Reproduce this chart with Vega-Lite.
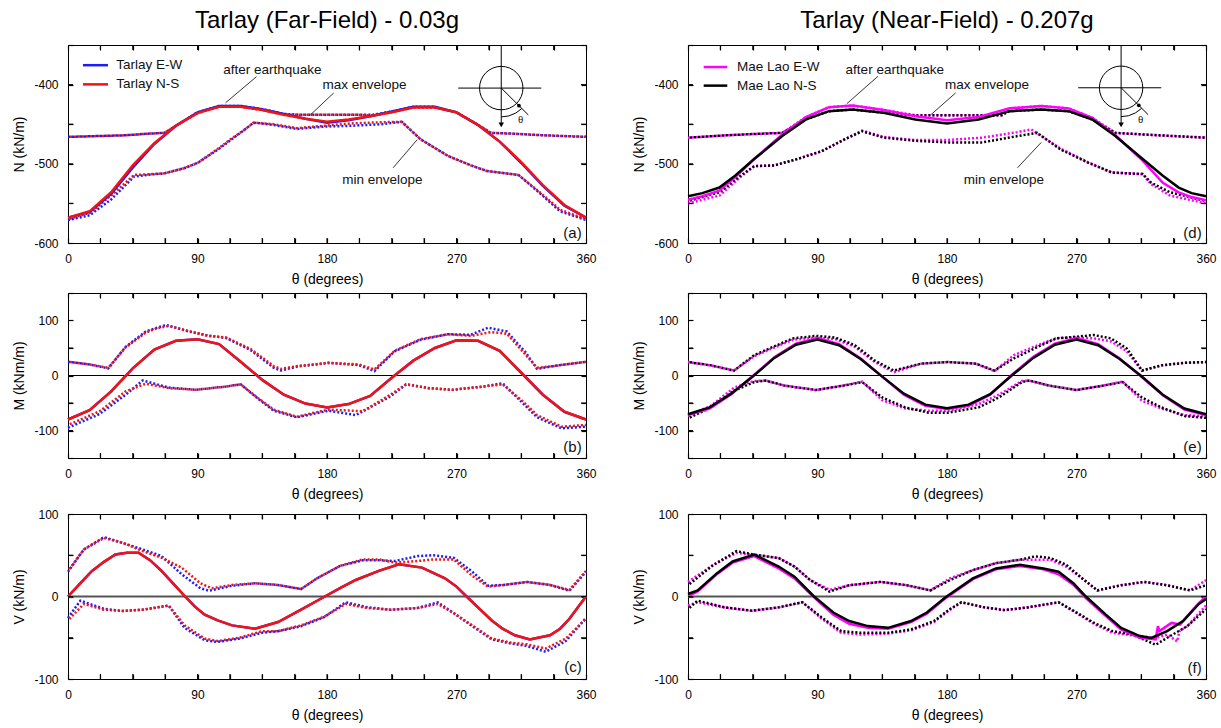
{
"$schema":"https://vega.github.io/schema/vega-lite/v6.json",
"padding":{"left":12,"top":8,"right":0,"bottom":0},
"config":{"font":"Liberation Sans","view":{"stroke":"#000","strokeWidth":1},
"axis":{"grid":false,"domain":false,"ticks":true,"tickColor":"#000","tickWidth":1.2,"tickSize":-5,"labelFontSize":12,"labelColor":"#000","labelPadding":15,"titleFontSize":14,"titleFontWeight":"normal","titleColor":"#000","labelFlush":false,"labelOverlap":false},
"axisX":{"titlePadding":8},"axisY":{"titlePadding":7},
"title":{"fontSize":24,"fontWeight":"normal","color":"#000"},
"text":{"color":"#111"}},
"datasets":{
"a":[
{"s":"E","k":"a","x":0,"y":-568},{"s":"E","k":"a","x":15,"y":-561},{"s":"E","k":"a","x":30,"y":-538},{"s":"E","k":"a","x":45,"y":-505},{"s":"E","k":"a","x":60,"y":-475},{"s":"E","k":"a","x":75,"y":-452},{"s":"E","k":"a","x":90,"y":-435},{"s":"E","k":"a","x":105,"y":-427},{"s":"E","k":"a","x":120,"y":-427},{"s":"E","k":"a","x":135,"y":-431},{"s":"E","k":"a","x":150,"y":-437},{"s":"E","k":"a","x":165,"y":-443},{"s":"E","k":"a","x":180,"y":-448},{"s":"E","k":"a","x":195,"y":-445},{"s":"E","k":"a","x":210,"y":-440},{"s":"E","k":"a","x":225,"y":-434},{"s":"E","k":"a","x":240,"y":-428},{"s":"E","k":"a","x":255,"y":-428},{"s":"E","k":"a","x":270,"y":-435},{"s":"E","k":"a","x":285,"y":-451},{"s":"E","k":"a","x":300,"y":-472},{"s":"E","k":"a","x":315,"y":-499},{"s":"E","k":"a","x":330,"y":-528},{"s":"E","k":"a","x":345,"y":-553},{"s":"E","k":"a","x":360,"y":-568},
{"s":"N","k":"a","x":0,"y":-568},{"s":"N","k":"a","x":15,"y":-560},{"s":"N","k":"a","x":30,"y":-536},{"s":"N","k":"a","x":45,"y":-502},{"s":"N","k":"a","x":60,"y":-474},{"s":"N","k":"a","x":75,"y":-452},{"s":"N","k":"a","x":90,"y":-436},{"s":"N","k":"a","x":105,"y":-428},{"s":"N","k":"a","x":120,"y":-428},{"s":"N","k":"a","x":135,"y":-432},{"s":"N","k":"a","x":150,"y":-438},{"s":"N","k":"a","x":165,"y":-443},{"s":"N","k":"a","x":180,"y":-447},{"s":"N","k":"a","x":195,"y":-444},{"s":"N","k":"a","x":210,"y":-440},{"s":"N","k":"a","x":225,"y":-435},{"s":"N","k":"a","x":240,"y":-429},{"s":"N","k":"a","x":255,"y":-429},{"s":"N","k":"a","x":270,"y":-435},{"s":"N","k":"a","x":285,"y":-451},{"s":"N","k":"a","x":300,"y":-472},{"s":"N","k":"a","x":315,"y":-498},{"s":"N","k":"a","x":330,"y":-527},{"s":"N","k":"a","x":345,"y":-552},{"s":"N","k":"a","x":360,"y":-568},
{"s":"E","k":"hi","x":0,"y":-466},{"s":"E","k":"hi","x":20,"y":-465},{"s":"E","k":"hi","x":40,"y":-464},{"s":"E","k":"hi","x":55,"y":-462},{"s":"E","k":"hi","x":67,"y":-461},{"s":"E","k":"hi","x":75,"y":-452},{"s":"E","k":"hi","x":90,"y":-435},{"s":"E","k":"hi","x":105,"y":-427},{"s":"E","k":"hi","x":120,"y":-427},{"s":"E","k":"hi","x":135,"y":-431},{"s":"E","k":"hi","x":150,"y":-437},{"s":"E","k":"hi","x":160,"y":-438},{"s":"E","k":"hi","x":180,"y":-438},{"s":"E","k":"hi","x":200,"y":-438},{"s":"E","k":"hi","x":212,"y":-438},{"s":"E","k":"hi","x":225,"y":-434},{"s":"E","k":"hi","x":240,"y":-428},{"s":"E","k":"hi","x":255,"y":-428},{"s":"E","k":"hi","x":270,"y":-435},{"s":"E","k":"hi","x":285,"y":-451},{"s":"E","k":"hi","x":294,"y":-461},{"s":"E","k":"hi","x":310,"y":-462},{"s":"E","k":"hi","x":330,"y":-464},{"s":"E","k":"hi","x":360,"y":-466},
{"s":"N","k":"hi","x":0,"y":-466},{"s":"N","k":"hi","x":20,"y":-465},{"s":"N","k":"hi","x":40,"y":-464},{"s":"N","k":"hi","x":55,"y":-462},{"s":"N","k":"hi","x":67,"y":-461},{"s":"N","k":"hi","x":75,"y":-452},{"s":"N","k":"hi","x":90,"y":-436},{"s":"N","k":"hi","x":105,"y":-428},{"s":"N","k":"hi","x":120,"y":-428},{"s":"N","k":"hi","x":135,"y":-432},{"s":"N","k":"hi","x":150,"y":-438},{"s":"N","k":"hi","x":160,"y":-438},{"s":"N","k":"hi","x":180,"y":-438},{"s":"N","k":"hi","x":200,"y":-438},{"s":"N","k":"hi","x":212,"y":-439},{"s":"N","k":"hi","x":225,"y":-435},{"s":"N","k":"hi","x":240,"y":-429},{"s":"N","k":"hi","x":255,"y":-429},{"s":"N","k":"hi","x":270,"y":-435},{"s":"N","k":"hi","x":285,"y":-451},{"s":"N","k":"hi","x":294,"y":-461},{"s":"N","k":"hi","x":310,"y":-462},{"s":"N","k":"hi","x":330,"y":-464},{"s":"N","k":"hi","x":360,"y":-466},
{"s":"E","k":"lo","x":0,"y":-571},{"s":"E","k":"lo","x":15,"y":-565},{"s":"E","k":"lo","x":30,"y":-545},{"s":"E","k":"lo","x":46,"y":-516},{"s":"E","k":"lo","x":55,"y":-514},{"s":"E","k":"lo","x":67,"y":-512},{"s":"E","k":"lo","x":80,"y":-506},{"s":"E","k":"lo","x":90,"y":-499},{"s":"E","k":"lo","x":105,"y":-481},{"s":"E","k":"lo","x":113,"y":-470},{"s":"E","k":"lo","x":122,"y":-458},{"s":"E","k":"lo","x":129,"y":-448},{"s":"E","k":"lo","x":143,"y":-451},{"s":"E","k":"lo","x":159,"y":-456},{"s":"E","k":"lo","x":178,"y":-453},{"s":"E","k":"lo","x":197,"y":-452},{"s":"E","k":"lo","x":218,"y":-450},{"s":"E","k":"lo","x":232,"y":-447},{"s":"E","k":"lo","x":245,"y":-469},{"s":"E","k":"lo","x":264,"y":-490},{"s":"E","k":"lo","x":280,"y":-502},{"s":"E","k":"lo","x":291,"y":-509},{"s":"E","k":"lo","x":313,"y":-514},{"s":"E","k":"lo","x":326,"y":-534},{"s":"E","k":"lo","x":342,"y":-560},{"s":"E","k":"lo","x":360,"y":-571},
{"s":"N","k":"lo","x":0,"y":-570},{"s":"N","k":"lo","x":15,"y":-562},{"s":"N","k":"lo","x":30,"y":-540},{"s":"N","k":"lo","x":46,"y":-514},{"s":"N","k":"lo","x":55,"y":-513.5},{"s":"N","k":"lo","x":67,"y":-512},{"s":"N","k":"lo","x":80,"y":-506},{"s":"N","k":"lo","x":90,"y":-499},{"s":"N","k":"lo","x":105,"y":-480},{"s":"N","k":"lo","x":113,"y":-469},{"s":"N","k":"lo","x":122,"y":-458},{"s":"N","k":"lo","x":129,"y":-448},{"s":"N","k":"lo","x":143,"y":-450},{"s":"N","k":"lo","x":159,"y":-455},{"s":"N","k":"lo","x":178,"y":-452},{"s":"N","k":"lo","x":197,"y":-449},{"s":"N","k":"lo","x":218,"y":-447.5},{"s":"N","k":"lo","x":232,"y":-447},{"s":"N","k":"lo","x":245,"y":-469},{"s":"N","k":"lo","x":264,"y":-490},{"s":"N","k":"lo","x":280,"y":-502},{"s":"N","k":"lo","x":291,"y":-509},{"s":"N","k":"lo","x":313,"y":-514},{"s":"N","k":"lo","x":326,"y":-533},{"s":"N","k":"lo","x":342,"y":-558},{"s":"N","k":"lo","x":360,"y":-570}
],
"b":[
{"s":"E","k":"a","x":0,"y":-80},{"s":"E","k":"a","x":15,"y":-63},{"s":"E","k":"a","x":30,"y":-29},{"s":"E","k":"a","x":45,"y":13},{"s":"E","k":"a","x":60,"y":47},{"s":"E","k":"a","x":75,"y":63},{"s":"E","k":"a","x":90,"y":66},{"s":"E","k":"a","x":105,"y":57},{"s":"E","k":"a","x":120,"y":25},{"s":"E","k":"a","x":135,"y":-8},{"s":"E","k":"a","x":150,"y":-35},{"s":"E","k":"a","x":165,"y":-51},{"s":"E","k":"a","x":180,"y":-58},{"s":"E","k":"a","x":195,"y":-52},{"s":"E","k":"a","x":210,"y":-37},{"s":"E","k":"a","x":225,"y":-4},{"s":"E","k":"a","x":240,"y":27},{"s":"E","k":"a","x":255,"y":50},{"s":"E","k":"a","x":270,"y":64},{"s":"E","k":"a","x":285,"y":63},{"s":"E","k":"a","x":300,"y":45},{"s":"E","k":"a","x":315,"y":5},{"s":"E","k":"a","x":330,"y":-35},{"s":"E","k":"a","x":345,"y":-66},{"s":"E","k":"a","x":360,"y":-80},
{"s":"N","k":"a","x":0,"y":-80},{"s":"N","k":"a","x":15,"y":-63},{"s":"N","k":"a","x":30,"y":-29},{"s":"N","k":"a","x":45,"y":13},{"s":"N","k":"a","x":60,"y":47},{"s":"N","k":"a","x":75,"y":63},{"s":"N","k":"a","x":90,"y":66},{"s":"N","k":"a","x":105,"y":57},{"s":"N","k":"a","x":120,"y":25},{"s":"N","k":"a","x":135,"y":-8},{"s":"N","k":"a","x":150,"y":-35},{"s":"N","k":"a","x":165,"y":-51},{"s":"N","k":"a","x":180,"y":-58},{"s":"N","k":"a","x":195,"y":-52},{"s":"N","k":"a","x":210,"y":-37},{"s":"N","k":"a","x":225,"y":-4},{"s":"N","k":"a","x":240,"y":27},{"s":"N","k":"a","x":255,"y":50},{"s":"N","k":"a","x":270,"y":64},{"s":"N","k":"a","x":285,"y":63},{"s":"N","k":"a","x":300,"y":45},{"s":"N","k":"a","x":315,"y":5},{"s":"N","k":"a","x":330,"y":-35},{"s":"N","k":"a","x":345,"y":-66},{"s":"N","k":"a","x":360,"y":-80},
{"s":"E","k":"hi","x":0,"y":25},{"s":"E","k":"hi","x":15,"y":20},{"s":"E","k":"hi","x":28,"y":13},{"s":"E","k":"hi","x":40,"y":52},{"s":"E","k":"hi","x":54,"y":80},{"s":"E","k":"hi","x":68,"y":92},{"s":"E","k":"hi","x":84,"y":80},{"s":"E","k":"hi","x":97,"y":73},{"s":"E","k":"hi","x":110,"y":68},{"s":"E","k":"hi","x":127,"y":46},{"s":"E","k":"hi","x":143,"y":14},{"s":"E","k":"hi","x":148,"y":9},{"s":"E","k":"hi","x":159,"y":16},{"s":"E","k":"hi","x":181,"y":23},{"s":"E","k":"hi","x":202,"y":19},{"s":"E","k":"hi","x":213,"y":8},{"s":"E","k":"hi","x":227,"y":44},{"s":"E","k":"hi","x":245,"y":65},{"s":"E","k":"hi","x":264,"y":75},{"s":"E","k":"hi","x":280,"y":74},{"s":"E","k":"hi","x":292,"y":87},{"s":"E","k":"hi","x":305,"y":80},{"s":"E","k":"hi","x":318,"y":42},{"s":"E","k":"hi","x":326,"y":12},{"s":"E","k":"hi","x":337,"y":17},{"s":"E","k":"hi","x":360,"y":25},
{"s":"N","k":"hi","x":0,"y":25},{"s":"N","k":"hi","x":15,"y":20},{"s":"N","k":"hi","x":28,"y":14},{"s":"N","k":"hi","x":40,"y":51},{"s":"N","k":"hi","x":54,"y":78},{"s":"N","k":"hi","x":62,"y":86},{"s":"N","k":"hi","x":70,"y":90},{"s":"N","k":"hi","x":84,"y":81},{"s":"N","k":"hi","x":97,"y":72},{"s":"N","k":"hi","x":110,"y":69},{"s":"N","k":"hi","x":127,"y":48},{"s":"N","k":"hi","x":143,"y":17},{"s":"N","k":"hi","x":148,"y":12},{"s":"N","k":"hi","x":159,"y":17},{"s":"N","k":"hi","x":181,"y":23},{"s":"N","k":"hi","x":202,"y":20},{"s":"N","k":"hi","x":213,"y":11},{"s":"N","k":"hi","x":227,"y":45},{"s":"N","k":"hi","x":245,"y":66},{"s":"N","k":"hi","x":264,"y":75},{"s":"N","k":"hi","x":280,"y":72},{"s":"N","k":"hi","x":294,"y":79},{"s":"N","k":"hi","x":305,"y":76},{"s":"N","k":"hi","x":318,"y":38},{"s":"N","k":"hi","x":326,"y":14},{"s":"N","k":"hi","x":337,"y":17},{"s":"N","k":"hi","x":360,"y":25},
{"s":"E","k":"lo","x":0,"y":-95},{"s":"E","k":"lo","x":22,"y":-70},{"s":"E","k":"lo","x":40,"y":-35},{"s":"E","k":"lo","x":52,"y":-9},{"s":"E","k":"lo","x":70,"y":-22},{"s":"E","k":"lo","x":89,"y":-26},{"s":"E","k":"lo","x":110,"y":-20},{"s":"E","k":"lo","x":120,"y":-16},{"s":"E","k":"lo","x":132,"y":-42},{"s":"E","k":"lo","x":143,"y":-64},{"s":"E","k":"lo","x":159,"y":-76},{"s":"E","k":"lo","x":181,"y":-64},{"s":"E","k":"lo","x":200,"y":-72},{"s":"E","k":"lo","x":224,"y":-38},{"s":"E","k":"lo","x":235,"y":-16},{"s":"E","k":"lo","x":251,"y":-23},{"s":"E","k":"lo","x":267,"y":-26},{"s":"E","k":"lo","x":289,"y":-20},{"s":"E","k":"lo","x":302,"y":-14},{"s":"E","k":"lo","x":316,"y":-50},{"s":"E","k":"lo","x":326,"y":-76},{"s":"E","k":"lo","x":343,"y":-96},{"s":"E","k":"lo","x":360,"y":-93},
{"s":"N","k":"lo","x":0,"y":-90},{"s":"N","k":"lo","x":22,"y":-65},{"s":"N","k":"lo","x":40,"y":-29},{"s":"N","k":"lo","x":54,"y":-15},{"s":"N","k":"lo","x":70,"y":-23},{"s":"N","k":"lo","x":89,"y":-26},{"s":"N","k":"lo","x":110,"y":-20},{"s":"N","k":"lo","x":120,"y":-16},{"s":"N","k":"lo","x":132,"y":-41},{"s":"N","k":"lo","x":143,"y":-62},{"s":"N","k":"lo","x":159,"y":-75},{"s":"N","k":"lo","x":181,"y":-62},{"s":"N","k":"lo","x":205,"y":-65},{"s":"N","k":"lo","x":224,"y":-35},{"s":"N","k":"lo","x":235,"y":-16},{"s":"N","k":"lo","x":251,"y":-23},{"s":"N","k":"lo","x":267,"y":-26},{"s":"N","k":"lo","x":289,"y":-20},{"s":"N","k":"lo","x":302,"y":-16},{"s":"N","k":"lo","x":316,"y":-47},{"s":"N","k":"lo","x":326,"y":-72},{"s":"N","k":"lo","x":343,"y":-93},{"s":"N","k":"lo","x":360,"y":-90}
],
"c":[
{"s":"E","k":"a","x":0,"y":0},{"s":"E","k":"a","x":8,"y":15},{"s":"E","k":"a","x":16.7,"y":31},{"s":"E","k":"a","x":25,"y":42},{"s":"E","k":"a","x":33,"y":51},{"s":"E","k":"a","x":41,"y":53},{"s":"E","k":"a","x":49,"y":53},{"s":"E","k":"a","x":57,"y":44},{"s":"E","k":"a","x":65,"y":31},{"s":"E","k":"a","x":73,"y":16},{"s":"E","k":"a","x":81.4,"y":0},{"s":"E","k":"a","x":88,"y":-12},{"s":"E","k":"a","x":95,"y":-22},{"s":"E","k":"a","x":104,"y":-29},{"s":"E","k":"a","x":114,"y":-35},{"s":"E","k":"a","x":130,"y":-39},{"s":"E","k":"a","x":146,"y":-31},{"s":"E","k":"a","x":162,"y":-16},{"s":"E","k":"a","x":178.5,"y":0},{"s":"E","k":"a","x":190,"y":11},{"s":"E","k":"a","x":200,"y":20},{"s":"E","k":"a","x":216,"y":31},{"s":"E","k":"a","x":230,"y":39},{"s":"E","k":"a","x":246,"y":35},{"s":"E","k":"a","x":262,"y":22},{"s":"E","k":"a","x":270,"y":12},{"s":"E","k":"a","x":277,"y":0},{"s":"E","k":"a","x":286,"y":-15},{"s":"E","k":"a","x":294.5,"y":-29},{"s":"E","k":"a","x":302,"y":-39},{"s":"E","k":"a","x":310.6,"y":-47},{"s":"E","k":"a","x":321,"y":-52},{"s":"E","k":"a","x":335,"y":-47},{"s":"E","k":"a","x":342,"y":-39},{"s":"E","k":"a","x":348.5,"y":-27},{"s":"E","k":"a","x":354,"y":-14},{"s":"E","k":"a","x":360,"y":0},
{"s":"N","k":"a","x":0,"y":0},{"s":"N","k":"a","x":8,"y":15},{"s":"N","k":"a","x":16.7,"y":31},{"s":"N","k":"a","x":25,"y":42},{"s":"N","k":"a","x":33,"y":51},{"s":"N","k":"a","x":41,"y":53},{"s":"N","k":"a","x":49,"y":53},{"s":"N","k":"a","x":57,"y":44},{"s":"N","k":"a","x":65,"y":31},{"s":"N","k":"a","x":73,"y":16},{"s":"N","k":"a","x":81.4,"y":0},{"s":"N","k":"a","x":88,"y":-12},{"s":"N","k":"a","x":95,"y":-22},{"s":"N","k":"a","x":104,"y":-29},{"s":"N","k":"a","x":114,"y":-35},{"s":"N","k":"a","x":130,"y":-39},{"s":"N","k":"a","x":146,"y":-31},{"s":"N","k":"a","x":162,"y":-16},{"s":"N","k":"a","x":178.5,"y":0},{"s":"N","k":"a","x":190,"y":11},{"s":"N","k":"a","x":200,"y":20},{"s":"N","k":"a","x":216,"y":31},{"s":"N","k":"a","x":230,"y":39},{"s":"N","k":"a","x":246,"y":35},{"s":"N","k":"a","x":262,"y":22},{"s":"N","k":"a","x":270,"y":12},{"s":"N","k":"a","x":277,"y":0},{"s":"N","k":"a","x":286,"y":-15},{"s":"N","k":"a","x":294.5,"y":-29},{"s":"N","k":"a","x":302,"y":-39},{"s":"N","k":"a","x":310.6,"y":-47},{"s":"N","k":"a","x":321,"y":-52},{"s":"N","k":"a","x":335,"y":-47},{"s":"N","k":"a","x":342,"y":-39},{"s":"N","k":"a","x":348.5,"y":-27},{"s":"N","k":"a","x":354,"y":-14},{"s":"N","k":"a","x":360,"y":0},
{"s":"E","k":"hi","x":0,"y":30},{"s":"E","k":"hi","x":11,"y":57},{"s":"E","k":"hi","x":25,"y":72},{"s":"E","k":"hi","x":38,"y":65},{"s":"E","k":"hi","x":52,"y":57},{"s":"E","k":"hi","x":65,"y":49},{"s":"E","k":"hi","x":79,"y":27},{"s":"E","k":"hi","x":92,"y":10},{"s":"E","k":"hi","x":98,"y":7},{"s":"E","k":"hi","x":114,"y":13},{"s":"E","k":"hi","x":130,"y":16},{"s":"E","k":"hi","x":146,"y":14},{"s":"E","k":"hi","x":162,"y":9},{"s":"E","k":"hi","x":173,"y":22},{"s":"E","k":"hi","x":189,"y":37},{"s":"E","k":"hi","x":205,"y":44},{"s":"E","k":"hi","x":216,"y":44},{"s":"E","k":"hi","x":227,"y":43},{"s":"E","k":"hi","x":243,"y":49},{"s":"E","k":"hi","x":254,"y":50},{"s":"E","k":"hi","x":268,"y":47},{"s":"E","k":"hi","x":281,"y":30},{"s":"E","k":"hi","x":292,"y":13},{"s":"E","k":"hi","x":303,"y":14},{"s":"E","k":"hi","x":319,"y":17.5},{"s":"E","k":"hi","x":335,"y":14},{"s":"E","k":"hi","x":348.5,"y":7},{"s":"E","k":"hi","x":360,"y":30},
{"s":"N","k":"hi","x":0,"y":31},{"s":"N","k":"hi","x":11,"y":57},{"s":"N","k":"hi","x":25,"y":71},{"s":"N","k":"hi","x":38,"y":65},{"s":"N","k":"hi","x":52,"y":55},{"s":"N","k":"hi","x":65,"y":47},{"s":"N","k":"hi","x":79,"y":35},{"s":"N","k":"hi","x":92,"y":16},{"s":"N","k":"hi","x":100,"y":10},{"s":"N","k":"hi","x":114,"y":14},{"s":"N","k":"hi","x":130,"y":16},{"s":"N","k":"hi","x":146,"y":14},{"s":"N","k":"hi","x":162,"y":9},{"s":"N","k":"hi","x":173,"y":22},{"s":"N","k":"hi","x":189,"y":37},{"s":"N","k":"hi","x":205,"y":45},{"s":"N","k":"hi","x":216,"y":45},{"s":"N","k":"hi","x":227,"y":41},{"s":"N","k":"hi","x":243,"y":43},{"s":"N","k":"hi","x":254,"y":45},{"s":"N","k":"hi","x":268,"y":45},{"s":"N","k":"hi","x":281,"y":25},{"s":"N","k":"hi","x":292,"y":12},{"s":"N","k":"hi","x":303,"y":14},{"s":"N","k":"hi","x":319,"y":17.5},{"s":"N","k":"hi","x":335,"y":14},{"s":"N","k":"hi","x":348.5,"y":8},{"s":"N","k":"hi","x":360,"y":31},
{"s":"E","k":"lo","x":0,"y":-26},{"s":"E","k":"lo","x":8.6,"y":-5},{"s":"E","k":"lo","x":25,"y":-15},{"s":"E","k":"lo","x":38,"y":-17.5},{"s":"E","k":"lo","x":52,"y":-16},{"s":"E","k":"lo","x":70,"y":-11},{"s":"E","k":"lo","x":81,"y":-38},{"s":"E","k":"lo","x":95,"y":-53},{"s":"E","k":"lo","x":104,"y":-55},{"s":"E","k":"lo","x":119,"y":-51},{"s":"E","k":"lo","x":135,"y":-44},{"s":"E","k":"lo","x":146,"y":-42},{"s":"E","k":"lo","x":162,"y":-36},{"s":"E","k":"lo","x":178,"y":-25},{"s":"E","k":"lo","x":193,"y":-7},{"s":"E","k":"lo","x":208,"y":-13},{"s":"E","k":"lo","x":224,"y":-16},{"s":"E","k":"lo","x":243,"y":-14},{"s":"E","k":"lo","x":257,"y":-7},{"s":"E","k":"lo","x":268,"y":-20},{"s":"E","k":"lo","x":281,"y":-36},{"s":"E","k":"lo","x":294.5,"y":-52},{"s":"E","k":"lo","x":308,"y":-57},{"s":"E","k":"lo","x":319,"y":-60},{"s":"E","k":"lo","x":332,"y":-67},{"s":"E","k":"lo","x":346,"y":-54},{"s":"E","k":"lo","x":360,"y":-26},
{"s":"N","k":"lo","x":0,"y":-29},{"s":"N","k":"lo","x":11,"y":-9},{"s":"N","k":"lo","x":25,"y":-16},{"s":"N","k":"lo","x":38,"y":-17.5},{"s":"N","k":"lo","x":52,"y":-16},{"s":"N","k":"lo","x":70,"y":-11},{"s":"N","k":"lo","x":81,"y":-35},{"s":"N","k":"lo","x":95,"y":-51},{"s":"N","k":"lo","x":104,"y":-54},{"s":"N","k":"lo","x":119,"y":-50},{"s":"N","k":"lo","x":135,"y":-42},{"s":"N","k":"lo","x":146,"y":-42},{"s":"N","k":"lo","x":162,"y":-35},{"s":"N","k":"lo","x":178,"y":-24.5},{"s":"N","k":"lo","x":193,"y":-9},{"s":"N","k":"lo","x":208,"y":-14},{"s":"N","k":"lo","x":224,"y":-16},{"s":"N","k":"lo","x":243,"y":-14},{"s":"N","k":"lo","x":257,"y":-9},{"s":"N","k":"lo","x":268,"y":-20},{"s":"N","k":"lo","x":281,"y":-35},{"s":"N","k":"lo","x":294.5,"y":-51},{"s":"N","k":"lo","x":308,"y":-56},{"s":"N","k":"lo","x":319,"y":-58},{"s":"N","k":"lo","x":332,"y":-63},{"s":"N","k":"lo","x":346,"y":-51},{"s":"N","k":"lo","x":360,"y":-27}
],
"d":[
{"s":"E","k":"a","x":0,"y":-545.5},{"s":"E","k":"a","x":10,"y":-541},{"s":"E","k":"a","x":21.8,"y":-534},{"s":"E","k":"a","x":32.7,"y":-517},{"s":"E","k":"a","x":46,"y":-494},{"s":"E","k":"a","x":65.5,"y":-463},{"s":"E","k":"a","x":82,"y":-441},{"s":"E","k":"a","x":98,"y":-428.5},{"s":"E","k":"a","x":114.5,"y":-426.5},{"s":"E","k":"a","x":136,"y":-432},{"s":"E","k":"a","x":158,"y":-440},{"s":"E","k":"a","x":180,"y":-445},{"s":"E","k":"a","x":202,"y":-441},{"s":"E","k":"a","x":223.6,"y":-430},{"s":"E","k":"a","x":245.5,"y":-427},{"s":"E","k":"a","x":264.5,"y":-430},{"s":"E","k":"a","x":281,"y":-442},{"s":"E","k":"a","x":297,"y":-464},{"s":"E","k":"a","x":316,"y":-496},{"s":"E","k":"a","x":330,"y":-524},{"s":"E","k":"a","x":341,"y":-536},{"s":"E","k":"a","x":350,"y":-542},{"s":"E","k":"a","x":360,"y":-546},
{"s":"N","k":"a","x":0,"y":-541},{"s":"N","k":"a","x":10,"y":-537},{"s":"N","k":"a","x":21.8,"y":-530},{"s":"N","k":"a","x":32.7,"y":-515},{"s":"N","k":"a","x":46,"y":-494},{"s":"N","k":"a","x":65.5,"y":-465},{"s":"N","k":"a","x":82,"y":-444},{"s":"N","k":"a","x":98,"y":-433.5},{"s":"N","k":"a","x":114.5,"y":-431.5},{"s":"N","k":"a","x":136,"y":-435.6},{"s":"N","k":"a","x":158,"y":-444},{"s":"N","k":"a","x":180,"y":-449},{"s":"N","k":"a","x":202,"y":-444},{"s":"N","k":"a","x":223.6,"y":-433.5},{"s":"N","k":"a","x":245.5,"y":-431.5},{"s":"N","k":"a","x":264.5,"y":-433.5},{"s":"N","k":"a","x":281,"y":-444},{"s":"N","k":"a","x":297,"y":-465},{"s":"N","k":"a","x":316,"y":-494},{"s":"N","k":"a","x":330,"y":-515},{"s":"N","k":"a","x":341,"y":-530},{"s":"N","k":"a","x":350,"y":-537},{"s":"N","k":"a","x":360,"y":-541},
{"s":"E","k":"hi","x":0,"y":-467},{"s":"E","k":"hi","x":27,"y":-464},{"s":"E","k":"hi","x":50,"y":-462},{"s":"E","k":"hi","x":65.5,"y":-461},{"s":"E","k":"hi","x":82,"y":-441},{"s":"E","k":"hi","x":98,"y":-428.5},{"s":"E","k":"hi","x":114.5,"y":-426.5},{"s":"E","k":"hi","x":136,"y":-432},{"s":"E","k":"hi","x":158,"y":-438.6},{"s":"E","k":"hi","x":169,"y":-438.6},{"s":"E","k":"hi","x":218,"y":-438.6},{"s":"E","k":"hi","x":223.6,"y":-430},{"s":"E","k":"hi","x":245.5,"y":-427},{"s":"E","k":"hi","x":264.5,"y":-430},{"s":"E","k":"hi","x":281,"y":-442},{"s":"E","k":"hi","x":297,"y":-461},{"s":"E","k":"hi","x":327,"y":-464},{"s":"E","k":"hi","x":360,"y":-467},
{"s":"N","k":"hi","x":0,"y":-467},{"s":"N","k":"hi","x":27,"y":-464},{"s":"N","k":"hi","x":50,"y":-462},{"s":"N","k":"hi","x":65.5,"y":-461},{"s":"N","k":"hi","x":82,"y":-444},{"s":"N","k":"hi","x":98,"y":-433.5},{"s":"N","k":"hi","x":114.5,"y":-431.5},{"s":"N","k":"hi","x":136,"y":-435.6},{"s":"N","k":"hi","x":158,"y":-439},{"s":"N","k":"hi","x":169,"y":-438.6},{"s":"N","k":"hi","x":218,"y":-438.6},{"s":"N","k":"hi","x":223.6,"y":-433.5},{"s":"N","k":"hi","x":245.5,"y":-431.5},{"s":"N","k":"hi","x":264.5,"y":-433.5},{"s":"N","k":"hi","x":281,"y":-444},{"s":"N","k":"hi","x":297,"y":-461},{"s":"N","k":"hi","x":327,"y":-464},{"s":"N","k":"hi","x":360,"y":-467},
{"s":"E","k":"lo","x":0,"y":-550},{"s":"E","k":"lo","x":22,"y":-540},{"s":"E","k":"lo","x":35,"y":-519},{"s":"E","k":"lo","x":46,"y":-503},{"s":"E","k":"lo","x":60,"y":-502},{"s":"E","k":"lo","x":76,"y":-494},{"s":"E","k":"lo","x":93,"y":-484},{"s":"E","k":"lo","x":109,"y":-469},{"s":"E","k":"lo","x":121,"y":-458},{"s":"E","k":"lo","x":136,"y":-466},{"s":"E","k":"lo","x":158,"y":-470},{"s":"E","k":"lo","x":180,"y":-470},{"s":"E","k":"lo","x":204.5,"y":-467},{"s":"E","k":"lo","x":229,"y":-460},{"s":"E","k":"lo","x":238.6,"y":-456.6},{"s":"E","k":"lo","x":259,"y":-481},{"s":"E","k":"lo","x":278,"y":-498},{"s":"E","k":"lo","x":294.5,"y":-511},{"s":"E","k":"lo","x":316,"y":-513},{"s":"E","k":"lo","x":322,"y":-526},{"s":"E","k":"lo","x":335,"y":-540},{"s":"E","k":"lo","x":360,"y":-550},
{"s":"N","k":"lo","x":0,"y":-547},{"s":"N","k":"lo","x":22,"y":-536},{"s":"N","k":"lo","x":35,"y":-517},{"s":"N","k":"lo","x":46,"y":-503},{"s":"N","k":"lo","x":60,"y":-502},{"s":"N","k":"lo","x":76,"y":-494},{"s":"N","k":"lo","x":93,"y":-484},{"s":"N","k":"lo","x":109,"y":-469},{"s":"N","k":"lo","x":121,"y":-459},{"s":"N","k":"lo","x":136,"y":-467},{"s":"N","k":"lo","x":158,"y":-471},{"s":"N","k":"lo","x":180,"y":-473},{"s":"N","k":"lo","x":204.5,"y":-473},{"s":"N","k":"lo","x":229,"y":-465},{"s":"N","k":"lo","x":242.7,"y":-461},{"s":"N","k":"lo","x":259,"y":-482},{"s":"N","k":"lo","x":278,"y":-498.5},{"s":"N","k":"lo","x":294.5,"y":-511},{"s":"N","k":"lo","x":316,"y":-513},{"s":"N","k":"lo","x":322,"y":-524},{"s":"N","k":"lo","x":335,"y":-536},{"s":"N","k":"lo","x":360,"y":-547}
],
"e":[
{"s":"E","k":"a","x":0,"y":-72},{"s":"E","k":"a","x":15,"y":-60},{"s":"E","k":"a","x":30,"y":-34},{"s":"E","k":"a","x":45,"y":-1},{"s":"E","k":"a","x":60,"y":33},{"s":"E","k":"a","x":75,"y":58},{"s":"E","k":"a","x":90,"y":68},{"s":"E","k":"a","x":105,"y":57},{"s":"E","k":"a","x":120,"y":31},{"s":"E","k":"a","x":135,"y":-2},{"s":"E","k":"a","x":150,"y":-35},{"s":"E","k":"a","x":165,"y":-55},{"s":"E","k":"a","x":180,"y":-61},{"s":"E","k":"a","x":195,"y":-55},{"s":"E","k":"a","x":210,"y":-35},{"s":"E","k":"a","x":225,"y":1},{"s":"E","k":"a","x":240,"y":34},{"s":"E","k":"a","x":255,"y":58},{"s":"E","k":"a","x":270,"y":68},{"s":"E","k":"a","x":285,"y":57},{"s":"E","k":"a","x":300,"y":31},{"s":"E","k":"a","x":315,"y":-2},{"s":"E","k":"a","x":330,"y":-36},{"s":"E","k":"a","x":345,"y":-62},{"s":"E","k":"a","x":360,"y":-72},
{"s":"N","k":"a","x":0,"y":-70.5},{"s":"N","k":"a","x":15,"y":-58},{"s":"N","k":"a","x":30,"y":-33},{"s":"N","k":"a","x":45,"y":-2},{"s":"N","k":"a","x":60,"y":32},{"s":"N","k":"a","x":75,"y":56},{"s":"N","k":"a","x":90,"y":65.6},{"s":"N","k":"a","x":105,"y":55},{"s":"N","k":"a","x":120,"y":30},{"s":"N","k":"a","x":135,"y":-2},{"s":"N","k":"a","x":150,"y":-33},{"s":"N","k":"a","x":165,"y":-53},{"s":"N","k":"a","x":180,"y":-59.5},{"s":"N","k":"a","x":195,"y":-53},{"s":"N","k":"a","x":210,"y":-34},{"s":"N","k":"a","x":225,"y":0},{"s":"N","k":"a","x":240,"y":32},{"s":"N","k":"a","x":255,"y":56},{"s":"N","k":"a","x":270,"y":65.6},{"s":"N","k":"a","x":285,"y":55},{"s":"N","k":"a","x":300,"y":30},{"s":"N","k":"a","x":315,"y":-1},{"s":"N","k":"a","x":330,"y":-35},{"s":"N","k":"a","x":345,"y":-60},{"s":"N","k":"a","x":360,"y":-70.5},
{"s":"E","k":"hi","x":0,"y":24.5},{"s":"E","k":"hi","x":16,"y":18.4},{"s":"E","k":"hi","x":32,"y":9},{"s":"E","k":"hi","x":46,"y":35},{"s":"E","k":"hi","x":59,"y":50},{"s":"E","k":"hi","x":73,"y":65},{"s":"E","k":"hi","x":89,"y":69},{"s":"E","k":"hi","x":102.5,"y":66},{"s":"E","k":"hi","x":116,"y":52},{"s":"E","k":"hi","x":129.5,"y":25},{"s":"E","k":"hi","x":143,"y":6},{"s":"E","k":"hi","x":162,"y":21.5},{"s":"E","k":"hi","x":180.7,"y":24.5},{"s":"E","k":"hi","x":200,"y":21.5},{"s":"E","k":"hi","x":213,"y":8},{"s":"E","k":"hi","x":226.5,"y":37},{"s":"E","k":"hi","x":243,"y":55},{"s":"E","k":"hi","x":256,"y":68},{"s":"E","k":"hi","x":270,"y":69},{"s":"E","k":"hi","x":282,"y":67.5},{"s":"E","k":"hi","x":294,"y":62},{"s":"E","k":"hi","x":305,"y":44},{"s":"E","k":"hi","x":315.5,"y":9},{"s":"E","k":"hi","x":329,"y":18.4},{"s":"E","k":"hi","x":345,"y":23},{"s":"E","k":"hi","x":360,"y":24.5},
{"s":"N","k":"hi","x":0,"y":24.5},{"s":"N","k":"hi","x":16,"y":18.4},{"s":"N","k":"hi","x":32,"y":9},{"s":"N","k":"hi","x":46,"y":37},{"s":"N","k":"hi","x":59,"y":52},{"s":"N","k":"hi","x":73,"y":67.5},{"s":"N","k":"hi","x":89,"y":72},{"s":"N","k":"hi","x":102.5,"y":69},{"s":"N","k":"hi","x":116,"y":55},{"s":"N","k":"hi","x":129.5,"y":27.6},{"s":"N","k":"hi","x":143,"y":9},{"s":"N","k":"hi","x":162,"y":21.5},{"s":"N","k":"hi","x":180.7,"y":24.5},{"s":"N","k":"hi","x":200,"y":21.5},{"s":"N","k":"hi","x":213,"y":9},{"s":"N","k":"hi","x":226.5,"y":31},{"s":"N","k":"hi","x":243,"y":52},{"s":"N","k":"hi","x":256,"y":67.5},{"s":"N","k":"hi","x":270,"y":70.5},{"s":"N","k":"hi","x":282,"y":73.6},{"s":"N","k":"hi","x":294,"y":67.5},{"s":"N","k":"hi","x":305,"y":49},{"s":"N","k":"hi","x":315.5,"y":9},{"s":"N","k":"hi","x":329,"y":18.4},{"s":"N","k":"hi","x":345,"y":23},{"s":"N","k":"hi","x":360,"y":24.5},
{"s":"E","k":"lo","x":0,"y":-73.6},{"s":"E","k":"lo","x":16,"y":-55},{"s":"E","k":"lo","x":32,"y":-22},{"s":"E","k":"lo","x":46,"y":-10},{"s":"E","k":"lo","x":54,"y":-9.2},{"s":"E","k":"lo","x":67,"y":-18.4},{"s":"E","k":"lo","x":89,"y":-26.4},{"s":"E","k":"lo","x":108,"y":-18.4},{"s":"E","k":"lo","x":121,"y":-11},{"s":"E","k":"lo","x":135,"y":-45},{"s":"E","k":"lo","x":151,"y":-60},{"s":"E","k":"lo","x":167,"y":-64},{"s":"E","k":"lo","x":180.7,"y":-64},{"s":"E","k":"lo","x":202,"y":-52},{"s":"E","k":"lo","x":216,"y":-35},{"s":"E","k":"lo","x":232,"y":-10},{"s":"E","k":"lo","x":237,"y":-9.2},{"s":"E","k":"lo","x":251,"y":-18.4},{"s":"E","k":"lo","x":270,"y":-26.4},{"s":"E","k":"lo","x":288.5,"y":-18.4},{"s":"E","k":"lo","x":302,"y":-11},{"s":"E","k":"lo","x":315.5,"y":-46},{"s":"E","k":"lo","x":329,"y":-60},{"s":"E","k":"lo","x":345,"y":-72},{"s":"E","k":"lo","x":360,"y":-74},
{"s":"N","k":"lo","x":0,"y":-78},{"s":"N","k":"lo","x":16,"y":-58},{"s":"N","k":"lo","x":32,"y":-27.6},{"s":"N","k":"lo","x":46,"y":-12},{"s":"N","k":"lo","x":54,"y":-9.2},{"s":"N","k":"lo","x":67,"y":-18.4},{"s":"N","k":"lo","x":89,"y":-26.4},{"s":"N","k":"lo","x":108,"y":-18.4},{"s":"N","k":"lo","x":121,"y":-12},{"s":"N","k":"lo","x":135,"y":-40},{"s":"N","k":"lo","x":151,"y":-58},{"s":"N","k":"lo","x":167,"y":-67.5},{"s":"N","k":"lo","x":180.7,"y":-67.5},{"s":"N","k":"lo","x":202,"y":-58},{"s":"N","k":"lo","x":216,"y":-40},{"s":"N","k":"lo","x":232,"y":-12},{"s":"N","k":"lo","x":237,"y":-9.2},{"s":"N","k":"lo","x":251,"y":-18.4},{"s":"N","k":"lo","x":270,"y":-26.4},{"s":"N","k":"lo","x":288.5,"y":-18.4},{"s":"N","k":"lo","x":302,"y":-12},{"s":"N","k":"lo","x":315.5,"y":-40},{"s":"N","k":"lo","x":329,"y":-58},{"s":"N","k":"lo","x":345,"y":-73.6},{"s":"N","k":"lo","x":360,"y":-77}
],
"f":[
{"s":"E","k":"a","x":0,"y":0},{"s":"E","k":"a","x":6.7,"y":6},{"s":"E","k":"a","x":20,"y":27},{"s":"E","k":"a","x":31,"y":41},{"s":"E","k":"a","x":46,"y":49},{"s":"E","k":"a","x":63,"y":34},{"s":"E","k":"a","x":74,"y":22},{"s":"E","k":"a","x":87.6,"y":-1},{"s":"E","k":"a","x":101,"y":-22},{"s":"E","k":"a","x":112,"y":-33},{"s":"E","k":"a","x":125,"y":-38},{"s":"E","k":"a","x":139,"y":-39},{"s":"E","k":"a","x":155,"y":-31},{"s":"E","k":"a","x":166,"y":-21},{"s":"E","k":"a","x":179,"y":-2},{"s":"E","k":"a","x":198,"y":21},{"s":"E","k":"a","x":214,"y":33},{"s":"E","k":"a","x":230.6,"y":37},{"s":"E","k":"a","x":247,"y":33},{"s":"E","k":"a","x":257.5,"y":27},{"s":"E","k":"a","x":268,"y":14},{"s":"E","k":"a","x":276.5,"y":-2},{"s":"E","k":"a","x":290,"y":-23},{"s":"E","k":"a","x":301,"y":-40},{"s":"E","k":"a","x":314,"y":-50},{"s":"E","k":"a","x":325,"y":-52},{"s":"E","k":"a","x":326.6,"y":-36},{"s":"E","k":"a","x":327.6,"y":-42},{"s":"E","k":"a","x":336,"y":-32},{"s":"E","k":"a","x":342,"y":-34},{"s":"E","k":"a","x":345,"y":-28},{"s":"E","k":"a","x":355,"y":-8},{"s":"E","k":"a","x":360,"y":0},
{"s":"N","k":"a","x":0,"y":3},{"s":"N","k":"a","x":6.7,"y":7.4},{"s":"N","k":"a","x":20,"y":28},{"s":"N","k":"a","x":31,"y":42.5},{"s":"N","k":"a","x":46,"y":50.7},{"s":"N","k":"a","x":63,"y":36.3},{"s":"N","k":"a","x":74,"y":24},{"s":"N","k":"a","x":87.6,"y":0},{"s":"N","k":"a","x":101,"y":-19.4},{"s":"N","k":"a","x":112,"y":-29.7},{"s":"N","k":"a","x":125,"y":-35.9},{"s":"N","k":"a","x":139,"y":-38},{"s":"N","k":"a","x":155,"y":-29.7},{"s":"N","k":"a","x":166,"y":-19.4},{"s":"N","k":"a","x":179,"y":-1},{"s":"N","k":"a","x":198,"y":22},{"s":"N","k":"a","x":214,"y":34},{"s":"N","k":"a","x":230.6,"y":38.4},{"s":"N","k":"a","x":247,"y":34},{"s":"N","k":"a","x":257.5,"y":30},{"s":"N","k":"a","x":268,"y":15.7},{"s":"N","k":"a","x":276.5,"y":0},{"s":"N","k":"a","x":290,"y":-21.4},{"s":"N","k":"a","x":301,"y":-38},{"s":"N","k":"a","x":314,"y":-48},{"s":"N","k":"a","x":322,"y":-50.3},{"s":"N","k":"a","x":333,"y":-42},{"s":"N","k":"a","x":344,"y":-29.7},{"s":"N","k":"a","x":355,"y":-9},{"s":"N","k":"a","x":360,"y":-3},
{"s":"E","k":"hi","x":0,"y":17.7},{"s":"E","k":"hi","x":17.5,"y":38.4},{"s":"E","k":"hi","x":33.7,"y":52.8},{"s":"E","k":"hi","x":46,"y":50.7},{"s":"E","k":"hi","x":63,"y":46.6},{"s":"E","k":"hi","x":74,"y":36.3},{"s":"E","k":"hi","x":85,"y":19.8},{"s":"E","k":"hi","x":98.4,"y":8.2},{"s":"E","k":"hi","x":112,"y":13.6},{"s":"E","k":"hi","x":133.5,"y":17.7},{"s":"E","k":"hi","x":152,"y":13.6},{"s":"E","k":"hi","x":168.5,"y":7.4},{"s":"E","k":"hi","x":182,"y":22},{"s":"E","k":"hi","x":198,"y":32},{"s":"E","k":"hi","x":214,"y":40.4},{"s":"E","k":"hi","x":230.6,"y":44.5},{"s":"E","k":"hi","x":241.4,"y":44.5},{"s":"E","k":"hi","x":252,"y":44.5},{"s":"E","k":"hi","x":263,"y":36},{"s":"E","k":"hi","x":274,"y":21.9},{"s":"E","k":"hi","x":284.5,"y":7.4},{"s":"E","k":"hi","x":301,"y":13.6},{"s":"E","k":"hi","x":317,"y":17.7},{"s":"E","k":"hi","x":333,"y":13.6},{"s":"E","k":"hi","x":349,"y":7.4},{"s":"E","k":"hi","x":360,"y":19.8},
{"s":"N","k":"hi","x":0,"y":13.6},{"s":"N","k":"hi","x":17.5,"y":38},{"s":"N","k":"hi","x":33.7,"y":55},{"s":"N","k":"hi","x":46,"y":50.7},{"s":"N","k":"hi","x":63,"y":46.6},{"s":"N","k":"hi","x":74,"y":36.3},{"s":"N","k":"hi","x":85,"y":19.8},{"s":"N","k":"hi","x":98.4,"y":6},{"s":"N","k":"hi","x":112,"y":13.6},{"s":"N","k":"hi","x":133.5,"y":17.7},{"s":"N","k":"hi","x":152,"y":13.6},{"s":"N","k":"hi","x":168.5,"y":7.4},{"s":"N","k":"hi","x":182,"y":19.8},{"s":"N","k":"hi","x":198,"y":32},{"s":"N","k":"hi","x":214,"y":40.4},{"s":"N","k":"hi","x":230.6,"y":44.5},{"s":"N","k":"hi","x":241.4,"y":48.7},{"s":"N","k":"hi","x":252,"y":46.6},{"s":"N","k":"hi","x":263,"y":38.4},{"s":"N","k":"hi","x":274,"y":21.9},{"s":"N","k":"hi","x":284.5,"y":7.4},{"s":"N","k":"hi","x":301,"y":13.6},{"s":"N","k":"hi","x":317,"y":17.7},{"s":"N","k":"hi","x":333,"y":13.6},{"s":"N","k":"hi","x":349,"y":7.4},{"s":"N","k":"hi","x":360,"y":13.6},
{"s":"E","k":"lo","x":0,"y":-11},{"s":"E","k":"lo","x":6.7,"y":-7},{"s":"E","k":"lo","x":25.6,"y":-13.2},{"s":"E","k":"lo","x":44.5,"y":-17.3},{"s":"E","k":"lo","x":63,"y":-13.2},{"s":"E","k":"lo","x":79.5,"y":-7},{"s":"E","k":"lo","x":93,"y":-27},{"s":"E","k":"lo","x":106.5,"y":-44},{"s":"E","k":"lo","x":120,"y":-46.2},{"s":"E","k":"lo","x":139,"y":-45},{"s":"E","k":"lo","x":155,"y":-41},{"s":"E","k":"lo","x":171,"y":-31},{"s":"E","k":"lo","x":182,"y":-16},{"s":"E","k":"lo","x":190,"y":-7},{"s":"E","k":"lo","x":206,"y":-13.2},{"s":"E","k":"lo","x":220,"y":-16.5},{"s":"E","k":"lo","x":236,"y":-13.2},{"s":"E","k":"lo","x":257.5,"y":-7},{"s":"E","k":"lo","x":268,"y":-18},{"s":"E","k":"lo","x":282,"y":-33},{"s":"E","k":"lo","x":295,"y":-44},{"s":"E","k":"lo","x":309,"y":-47},{"s":"E","k":"lo","x":325,"y":-50.3},{"s":"E","k":"lo","x":333,"y":-46.2},{"s":"E","k":"lo","x":340,"y":-54.4},{"s":"E","k":"lo","x":341.5,"y":-42},{"s":"E","k":"lo","x":347,"y":-35.9},{"s":"E","k":"lo","x":360,"y":-11},
{"s":"N","k":"lo","x":0,"y":-15.3},{"s":"N","k":"lo","x":6.7,"y":-5},{"s":"N","k":"lo","x":25.6,"y":-13.2},{"s":"N","k":"lo","x":44.5,"y":-17.3},{"s":"N","k":"lo","x":63,"y":-13.2},{"s":"N","k":"lo","x":79.5,"y":-7},{"s":"N","k":"lo","x":93,"y":-25.6},{"s":"N","k":"lo","x":106.5,"y":-42},{"s":"N","k":"lo","x":120,"y":-44},{"s":"N","k":"lo","x":139,"y":-44},{"s":"N","k":"lo","x":155,"y":-40},{"s":"N","k":"lo","x":171,"y":-29.7},{"s":"N","k":"lo","x":182,"y":-15.3},{"s":"N","k":"lo","x":190,"y":-7},{"s":"N","k":"lo","x":206,"y":-13.2},{"s":"N","k":"lo","x":220,"y":-16.5},{"s":"N","k":"lo","x":236,"y":-13.2},{"s":"N","k":"lo","x":257.5,"y":-7},{"s":"N","k":"lo","x":268,"y":-17.3},{"s":"N","k":"lo","x":282,"y":-31.8},{"s":"N","k":"lo","x":295,"y":-42},{"s":"N","k":"lo","x":309,"y":-46.2},{"s":"N","k":"lo","x":325,"y":-58.5},{"s":"N","k":"lo","x":335,"y":-48},{"s":"N","k":"lo","x":347,"y":-36},{"s":"N","k":"lo","x":360,"y":-15.3}
]
},
"hconcat":[
{"spacing":-1,"vconcat":[
{"width":518,"height":198,"title":{"text":"Tarlay (Far-Field) - 0.03g","anchor":"middle","frame":"group","offset":6},
"data":{"name":"a"},
"resolve":{"axis":{"x":"independent","y":"independent"}},
"encoding":{"x":{"field":"x","type":"quantitative","scale":{"domain":[0,360],"nice":false},"axis":null},"y":{"field":"y","type":"quantitative","scale":{"domain":[-600,-350],"nice":false,"zero":false},"axis":null}},
"layer":[
{"transform":[{"filter":"datum.s=='E' && datum.k!='a'"}],"mark":{"type":"line","color":"#1c1cff","strokeWidth":2.5,"strokeDash":[2,2]},"encoding":{"detail":{"field":"k"},"x":{"field":"x","type":"quantitative","scale":{"domain":[0,360],"nice":false},"axis":{"orient":"bottom","values":[0,22.5,45,67.5,90,112.5,135,157.5,180,202.5,225,247.5,270,292.5,315,337.5,360],"labelExpr":"datum.value % 90 == 0 ? '' + datum.value : ''","title":"θ (degrees)"}},"y":{"field":"y","type":"quantitative","scale":{"domain":[-600,-350],"nice":false,"zero":false},"axis":{"orient":"left","values":[-600,-550,-500,-450,-400,-350],"labelExpr":"datum.value % 100 == 0 ? '' + datum.value : ''","title":"N (kN/m)"}}}},
{"transform":[{"filter":"datum.s=='N' && datum.k!='a'"}],"mark":{"type":"line","color":"#f21313","strokeWidth":2.5,"strokeDash":[2,2],"strokeDashOffset":2},"encoding":{"detail":{"field":"k"}}},
{"transform":[{"filter":"datum.s=='E' && datum.k=='a'"}],"mark":{"type":"line","color":"#1c1cff","strokeWidth":2.5},"encoding":{}},
{"transform":[{"filter":"datum.s=='N' && datum.k=='a'"}],"mark":{"type":"line","color":"#f21313","strokeWidth":2.5},"encoding":{}},
{"mark":{"type":"point","opacity":0},"encoding":{"x":{"field":"x","type":"quantitative","scale":{"domain":[0,360],"nice":false},"axis":{"orient":"top","values":[0,22.5,45,67.5,90,112.5,135,157.5,180,202.5,225,247.5,270,292.5,315,337.5,360],"labels":false,"title":null}},"y":{"field":"y","type":"quantitative","scale":{"domain":[-600,-350],"nice":false,"zero":false},"axis":{"orient":"right","values":[-600,-550,-500,-450,-400,-350],"labels":false,"title":null}}}},
{"data":{"values":[{"x":22.5,"x2":22.5,"y":-600,"y2":-593.7},{"x":45,"x2":45,"y":-600,"y2":-593.7},{"x":67.5,"x2":67.5,"y":-600,"y2":-593.7},{"x":90,"x2":90,"y":-600,"y2":-593.7},{"x":112.5,"x2":112.5,"y":-600,"y2":-593.7},{"x":135,"x2":135,"y":-600,"y2":-593.7},{"x":157.5,"x2":157.5,"y":-600,"y2":-593.7},{"x":180,"x2":180,"y":-600,"y2":-593.7},{"x":202.5,"x2":202.5,"y":-600,"y2":-593.7},{"x":225,"x2":225,"y":-600,"y2":-593.7},{"x":247.5,"x2":247.5,"y":-600,"y2":-593.7},{"x":270,"x2":270,"y":-600,"y2":-593.7},{"x":292.5,"x2":292.5,"y":-600,"y2":-593.7},{"x":315,"x2":315,"y":-600,"y2":-593.7},{"x":337.5,"x2":337.5,"y":-600,"y2":-593.7},{"x":22.5,"x2":22.5,"y":-350,"y2":-356.3},{"x":45,"x2":45,"y":-350,"y2":-356.3},{"x":67.5,"x2":67.5,"y":-350,"y2":-356.3},{"x":90,"x2":90,"y":-350,"y2":-356.3},{"x":112.5,"x2":112.5,"y":-350,"y2":-356.3},{"x":135,"x2":135,"y":-350,"y2":-356.3},{"x":157.5,"x2":157.5,"y":-350,"y2":-356.3},{"x":180,"x2":180,"y":-350,"y2":-356.3},{"x":202.5,"x2":202.5,"y":-350,"y2":-356.3},{"x":225,"x2":225,"y":-350,"y2":-356.3},{"x":247.5,"x2":247.5,"y":-350,"y2":-356.3},{"x":270,"x2":270,"y":-350,"y2":-356.3},{"x":292.5,"x2":292.5,"y":-350,"y2":-356.3},{"x":315,"x2":315,"y":-350,"y2":-356.3},{"x":337.5,"x2":337.5,"y":-350,"y2":-356.3},{"x":0,"x2":3.5,"y":-550,"y2":-550},{"x":0,"x2":3.5,"y":-500,"y2":-500},{"x":0,"x2":3.5,"y":-450,"y2":-450},{"x":0,"x2":3.5,"y":-400,"y2":-400},{"x":360,"x2":356.5,"y":-550,"y2":-550},{"x":360,"x2":356.5,"y":-500,"y2":-500},{"x":360,"x2":356.5,"y":-450,"y2":-450},{"x":360,"x2":356.5,"y":-400,"y2":-400}]},"mark":{"type":"rule","color":"#000","strokeWidth":1},"encoding":{"x2":{"field":"x2"},"y2":{"field":"y2"}}},
{"data":{"values":[{"x":10.4,"x2":27.8,"y":-375.5,"y2":-375.5}]},"mark":{"type":"rule","color":"#1c1cff","strokeWidth":2.5},"encoding":{"x2":{"field":"x2"},"y2":{"field":"y2"}}},
{"data":{"values":[{"x":10.4,"x2":27.8,"y":-399.7,"y2":-399.7}]},"mark":{"type":"rule","color":"#f21313","strokeWidth":2.5},"encoding":{"x2":{"field":"x2"},"y2":{"field":"y2"}}},
{"data":{"values":[{"t":"Tarlay E-W","x":33.6,"y":-375.5},{"t":"Tarlay N-S","x":33.6,"y":-399.7}]},"mark":{"type":"text","align":"left","baseline":"middle","fontSize":13.5},"encoding":{"text":{"field":"t"}}},
{"data":{"values":[{"t":"after earthquake","x":142,"y":-381},{"t":"max envelope","x":206,"y":-400},{"t":"min envelope","x":218.5,"y":-520}]},"mark":{"type":"text","align":"center","baseline":"middle","fontSize":13.5},"encoding":{"text":{"field":"t"}}},
{"data":{"values":[{"x":131,"x2":109.5,"y":-390,"y2":-423},{"x":184.7,"x2":168.6,"y":-410.5,"y2":-438},{"x":226,"x2":242.7,"y":-505,"y2":-469.5}]},"mark":{"type":"rule","color":"#000","strokeWidth":0.8},"encoding":{"x2":{"field":"x2"},"y2":{"field":"y2"}}},
{"data":{"values":[{"x":271.2,"x2":328.9,"y":-404.4,"y2":-404.4},{"x":301.1,"x2":301.1,"y":-350,"y2":-451},{"x":301.1,"x2":319.9,"y":-404.4,"y2":-438.3}]},"mark":{"type":"rule","color":"#000","strokeWidth":1},"encoding":{"x2":{"field":"x2"},"y2":{"field":"y2"}}},
{"data":{"values":[{"x":301.1,"y":-404.4}]},"mark":{"type":"point","shape":"circle","size":1886,"filled":false,"stroke":"#000","strokeWidth":1,"opacity":1},"encoding":{}},
{"data":{"values":[{"x":301.1,"y":-440.8},{"x":306.3,"y":-439.6},{"x":311.2,"y":-435.9},{"x":315.4,"y":-430.2}]},"mark":{"type":"line","color":"#000","strokeWidth":1},"encoding":{}},
{"data":{"values":[{"x":301.1,"y":-451}]},"mark":{"type":"point","shape":"triangle-down","size":30,"filled":true,"color":"#000","opacity":1},"encoding":{}},
{"data":{"values":[{"x":313.4,"y":-426.6}]},"mark":{"type":"point","shape":"circle","size":14,"filled":true,"color":"#000","opacity":1},"encoding":{}},
{"data":{"values":[{"t":"θ","x":314.6,"y":-445}]},"mark":{"type":"text","font":"Liberation Serif","align":"center","baseline":"middle","fontSize":11},"encoding":{"text":{"field":"t"}}},
{"data":{"values":[{"t":"(a)","x":357,"y":-587}]},"mark":{"type":"text","align":"right","baseline":"middle","fontSize":15},"encoding":{"text":{"field":"t"}}}
]},
{"width":518,"height":165,
"data":{"name":"b"},
"resolve":{"axis":{"x":"independent","y":"independent"}},
"encoding":{"x":{"field":"x","type":"quantitative","scale":{"domain":[0,360],"nice":false},"axis":null},"y":{"field":"y","type":"quantitative","scale":{"domain":[-150,150],"nice":false,"zero":false},"axis":null}},
"layer":[
{"data":{"values":[{"x":0,"x2":360,"y":0,"y2":0}]},"mark":{"type":"rule","color":"#000","strokeWidth":1.2},"encoding":{"x2":{"field":"x2"},"y2":{"field":"y2"}}},
{"transform":[{"filter":"datum.s=='E' && datum.k!='a'"}],"mark":{"type":"line","color":"#1c1cff","strokeWidth":2.5,"strokeDash":[2,2]},"encoding":{"detail":{"field":"k"},"x":{"field":"x","type":"quantitative","scale":{"domain":[0,360],"nice":false},"axis":{"orient":"bottom","values":[0,22.5,45,67.5,90,112.5,135,157.5,180,202.5,225,247.5,270,292.5,315,337.5,360],"labelExpr":"datum.value % 90 == 0 ? '' + datum.value : ''","title":"θ (degrees)"}},"y":{"field":"y","type":"quantitative","scale":{"domain":[-150,150],"nice":false,"zero":false},"axis":{"orient":"left","values":[-150,-100,-50,0,50,100,150],"labelExpr":"datum.value % 100 == 0 ? '' + datum.value : ''","title":"M (kNm/m)"}}}},
{"transform":[{"filter":"datum.s=='N' && datum.k!='a'"}],"mark":{"type":"line","color":"#f21313","strokeWidth":2.5,"strokeDash":[2,2],"strokeDashOffset":2},"encoding":{"detail":{"field":"k"}}},
{"transform":[{"filter":"datum.s=='E' && datum.k=='a'"}],"mark":{"type":"line","color":"#1c1cff","strokeWidth":2.5},"encoding":{}},
{"transform":[{"filter":"datum.s=='N' && datum.k=='a'"}],"mark":{"type":"line","color":"#f21313","strokeWidth":2.5},"encoding":{}},
{"mark":{"type":"point","opacity":0},"encoding":{"x":{"field":"x","type":"quantitative","scale":{"domain":[0,360],"nice":false},"axis":{"orient":"top","values":[0,22.5,45,67.5,90,112.5,135,157.5,180,202.5,225,247.5,270,292.5,315,337.5,360],"labels":false,"title":null}},"y":{"field":"y","type":"quantitative","scale":{"domain":[-150,150],"nice":false,"zero":false},"axis":{"orient":"right","values":[-150,-100,-50,0,50,100,150],"labels":false,"title":null}}}},
{"data":{"values":[{"x":22.5,"x2":22.5,"y":-150,"y2":-140.9},{"x":45,"x2":45,"y":-150,"y2":-140.9},{"x":67.5,"x2":67.5,"y":-150,"y2":-140.9},{"x":90,"x2":90,"y":-150,"y2":-140.9},{"x":112.5,"x2":112.5,"y":-150,"y2":-140.9},{"x":135,"x2":135,"y":-150,"y2":-140.9},{"x":157.5,"x2":157.5,"y":-150,"y2":-140.9},{"x":180,"x2":180,"y":-150,"y2":-140.9},{"x":202.5,"x2":202.5,"y":-150,"y2":-140.9},{"x":225,"x2":225,"y":-150,"y2":-140.9},{"x":247.5,"x2":247.5,"y":-150,"y2":-140.9},{"x":270,"x2":270,"y":-150,"y2":-140.9},{"x":292.5,"x2":292.5,"y":-150,"y2":-140.9},{"x":315,"x2":315,"y":-150,"y2":-140.9},{"x":337.5,"x2":337.5,"y":-150,"y2":-140.9},{"x":22.5,"x2":22.5,"y":150,"y2":140.9},{"x":45,"x2":45,"y":150,"y2":140.9},{"x":67.5,"x2":67.5,"y":150,"y2":140.9},{"x":90,"x2":90,"y":150,"y2":140.9},{"x":112.5,"x2":112.5,"y":150,"y2":140.9},{"x":135,"x2":135,"y":150,"y2":140.9},{"x":157.5,"x2":157.5,"y":150,"y2":140.9},{"x":180,"x2":180,"y":150,"y2":140.9},{"x":202.5,"x2":202.5,"y":150,"y2":140.9},{"x":225,"x2":225,"y":150,"y2":140.9},{"x":247.5,"x2":247.5,"y":150,"y2":140.9},{"x":270,"x2":270,"y":150,"y2":140.9},{"x":292.5,"x2":292.5,"y":150,"y2":140.9},{"x":315,"x2":315,"y":150,"y2":140.9},{"x":337.5,"x2":337.5,"y":150,"y2":140.9},{"x":0,"x2":3.5,"y":-100,"y2":-100},{"x":0,"x2":3.5,"y":-50,"y2":-50},{"x":0,"x2":3.5,"y":0,"y2":0},{"x":0,"x2":3.5,"y":50,"y2":50},{"x":0,"x2":3.5,"y":100,"y2":100},{"x":360,"x2":356.5,"y":-100,"y2":-100},{"x":360,"x2":356.5,"y":-50,"y2":-50},{"x":360,"x2":356.5,"y":0,"y2":0},{"x":360,"x2":356.5,"y":50,"y2":50},{"x":360,"x2":356.5,"y":100,"y2":100}]},"mark":{"type":"rule","color":"#000","strokeWidth":1},"encoding":{"x2":{"field":"x2"},"y2":{"field":"y2"}}},
{"data":{"values":[{"t":"(b)","x":357,"y":-130}]},"mark":{"type":"text","align":"right","baseline":"middle","fontSize":15},"encoding":{"text":{"field":"t"}}}
]},
{"width":518,"height":165,"title":{"text":" ","fontSize":6,"offset":0},
"data":{"name":"c"},
"resolve":{"axis":{"x":"independent","y":"independent"}},
"encoding":{"x":{"field":"x","type":"quantitative","scale":{"domain":[0,360],"nice":false},"axis":null},"y":{"field":"y","type":"quantitative","scale":{"domain":[-100,100],"nice":false,"zero":false},"axis":null}},
"layer":[
{"data":{"values":[{"x":0,"x2":360,"y":0,"y2":0}]},"mark":{"type":"rule","color":"#555","strokeWidth":2},"encoding":{"x2":{"field":"x2"},"y2":{"field":"y2"}}},
{"transform":[{"filter":"datum.s=='E' && datum.k!='a'"}],"mark":{"type":"line","color":"#1c1cff","strokeWidth":2.5,"strokeDash":[2,2]},"encoding":{"detail":{"field":"k"},"x":{"field":"x","type":"quantitative","scale":{"domain":[0,360],"nice":false},"axis":{"orient":"bottom","values":[0,22.5,45,67.5,90,112.5,135,157.5,180,202.5,225,247.5,270,292.5,315,337.5,360],"labelExpr":"datum.value % 90 == 0 ? '' + datum.value : ''","title":"θ (degrees)"}},"y":{"field":"y","type":"quantitative","scale":{"domain":[-100,100],"nice":false,"zero":false},"axis":{"orient":"left","values":[-100,-50,0,50,100],"labelExpr":"datum.value % 100 == 0 ? '' + datum.value : ''","title":"V (kN/m)"}}}},
{"transform":[{"filter":"datum.s=='N' && datum.k!='a'"}],"mark":{"type":"line","color":"#f21313","strokeWidth":2.5,"strokeDash":[2,2],"strokeDashOffset":2},"encoding":{"detail":{"field":"k"}}},
{"transform":[{"filter":"datum.s=='E' && datum.k=='a'"}],"mark":{"type":"line","color":"#1c1cff","strokeWidth":2.5},"encoding":{}},
{"transform":[{"filter":"datum.s=='N' && datum.k=='a'"}],"mark":{"type":"line","color":"#f21313","strokeWidth":2.5},"encoding":{}},
{"mark":{"type":"point","opacity":0},"encoding":{"x":{"field":"x","type":"quantitative","scale":{"domain":[0,360],"nice":false},"axis":{"orient":"top","values":[0,22.5,45,67.5,90,112.5,135,157.5,180,202.5,225,247.5,270,292.5,315,337.5,360],"labels":false,"title":null}},"y":{"field":"y","type":"quantitative","scale":{"domain":[-100,100],"nice":false,"zero":false},"axis":{"orient":"right","values":[-100,-50,0,50,100],"labels":false,"title":null}}}},
{"data":{"values":[{"x":22.5,"x2":22.5,"y":-100,"y2":-93.9},{"x":45,"x2":45,"y":-100,"y2":-93.9},{"x":67.5,"x2":67.5,"y":-100,"y2":-93.9},{"x":90,"x2":90,"y":-100,"y2":-93.9},{"x":112.5,"x2":112.5,"y":-100,"y2":-93.9},{"x":135,"x2":135,"y":-100,"y2":-93.9},{"x":157.5,"x2":157.5,"y":-100,"y2":-93.9},{"x":180,"x2":180,"y":-100,"y2":-93.9},{"x":202.5,"x2":202.5,"y":-100,"y2":-93.9},{"x":225,"x2":225,"y":-100,"y2":-93.9},{"x":247.5,"x2":247.5,"y":-100,"y2":-93.9},{"x":270,"x2":270,"y":-100,"y2":-93.9},{"x":292.5,"x2":292.5,"y":-100,"y2":-93.9},{"x":315,"x2":315,"y":-100,"y2":-93.9},{"x":337.5,"x2":337.5,"y":-100,"y2":-93.9},{"x":22.5,"x2":22.5,"y":100,"y2":93.9},{"x":45,"x2":45,"y":100,"y2":93.9},{"x":67.5,"x2":67.5,"y":100,"y2":93.9},{"x":90,"x2":90,"y":100,"y2":93.9},{"x":112.5,"x2":112.5,"y":100,"y2":93.9},{"x":135,"x2":135,"y":100,"y2":93.9},{"x":157.5,"x2":157.5,"y":100,"y2":93.9},{"x":180,"x2":180,"y":100,"y2":93.9},{"x":202.5,"x2":202.5,"y":100,"y2":93.9},{"x":225,"x2":225,"y":100,"y2":93.9},{"x":247.5,"x2":247.5,"y":100,"y2":93.9},{"x":270,"x2":270,"y":100,"y2":93.9},{"x":292.5,"x2":292.5,"y":100,"y2":93.9},{"x":315,"x2":315,"y":100,"y2":93.9},{"x":337.5,"x2":337.5,"y":100,"y2":93.9},{"x":0,"x2":3.5,"y":-50,"y2":-50},{"x":0,"x2":3.5,"y":0,"y2":0},{"x":0,"x2":3.5,"y":50,"y2":50},{"x":360,"x2":356.5,"y":-50,"y2":-50},{"x":360,"x2":356.5,"y":0,"y2":0},{"x":360,"x2":356.5,"y":50,"y2":50}]},"mark":{"type":"rule","color":"#000","strokeWidth":1},"encoding":{"x2":{"field":"x2"},"y2":{"field":"y2"}}},
{"data":{"values":[{"t":"(c)","x":357,"y":-86}]},"mark":{"type":"text","align":"right","baseline":"middle","fontSize":15},"encoding":{"text":{"field":"t"}}}
]}
]},
{"spacing":-1,"vconcat":[
{"width":518,"height":198,"title":{"text":"Tarlay (Near-Field) - 0.207g","anchor":"middle","frame":"group","offset":6},
"data":{"name":"d"},
"resolve":{"axis":{"x":"independent","y":"independent"}},
"encoding":{"x":{"field":"x","type":"quantitative","scale":{"domain":[0,360],"nice":false},"axis":null},"y":{"field":"y","type":"quantitative","scale":{"domain":[-600,-350],"nice":false,"zero":false},"axis":null}},
"layer":[
{"transform":[{"filter":"datum.s=='E' && datum.k!='a'"}],"mark":{"type":"line","color":"#ff00ff","strokeWidth":2.5,"strokeDash":[2,2]},"encoding":{"detail":{"field":"k"},"x":{"field":"x","type":"quantitative","scale":{"domain":[0,360],"nice":false},"axis":{"orient":"bottom","values":[0,22.5,45,67.5,90,112.5,135,157.5,180,202.5,225,247.5,270,292.5,315,337.5,360],"labelExpr":"datum.value % 90 == 0 ? '' + datum.value : ''","title":"θ (degrees)"}},"y":{"field":"y","type":"quantitative","scale":{"domain":[-600,-350],"nice":false,"zero":false},"axis":{"orient":"left","values":[-600,-550,-500,-450,-400,-350],"labelExpr":"datum.value % 100 == 0 ? '' + datum.value : ''","title":"N (kN/m)"}}}},
{"transform":[{"filter":"datum.s=='N' && datum.k!='a'"}],"mark":{"type":"line","color":"#000","strokeWidth":2.5,"strokeDash":[2,2],"strokeDashOffset":2},"encoding":{"detail":{"field":"k"}}},
{"transform":[{"filter":"datum.s=='E' && datum.k=='a'"}],"mark":{"type":"line","color":"#ff00ff","strokeWidth":2.5},"encoding":{}},
{"transform":[{"filter":"datum.s=='N' && datum.k=='a'"}],"mark":{"type":"line","color":"#000","strokeWidth":2.5},"encoding":{}},
{"mark":{"type":"point","opacity":0},"encoding":{"x":{"field":"x","type":"quantitative","scale":{"domain":[0,360],"nice":false},"axis":{"orient":"top","values":[0,22.5,45,67.5,90,112.5,135,157.5,180,202.5,225,247.5,270,292.5,315,337.5,360],"labels":false,"title":null}},"y":{"field":"y","type":"quantitative","scale":{"domain":[-600,-350],"nice":false,"zero":false},"axis":{"orient":"right","values":[-600,-550,-500,-450,-400,-350],"labels":false,"title":null}}}},
{"data":{"values":[{"x":22.5,"x2":22.5,"y":-600,"y2":-593.7},{"x":45,"x2":45,"y":-600,"y2":-593.7},{"x":67.5,"x2":67.5,"y":-600,"y2":-593.7},{"x":90,"x2":90,"y":-600,"y2":-593.7},{"x":112.5,"x2":112.5,"y":-600,"y2":-593.7},{"x":135,"x2":135,"y":-600,"y2":-593.7},{"x":157.5,"x2":157.5,"y":-600,"y2":-593.7},{"x":180,"x2":180,"y":-600,"y2":-593.7},{"x":202.5,"x2":202.5,"y":-600,"y2":-593.7},{"x":225,"x2":225,"y":-600,"y2":-593.7},{"x":247.5,"x2":247.5,"y":-600,"y2":-593.7},{"x":270,"x2":270,"y":-600,"y2":-593.7},{"x":292.5,"x2":292.5,"y":-600,"y2":-593.7},{"x":315,"x2":315,"y":-600,"y2":-593.7},{"x":337.5,"x2":337.5,"y":-600,"y2":-593.7},{"x":22.5,"x2":22.5,"y":-350,"y2":-356.3},{"x":45,"x2":45,"y":-350,"y2":-356.3},{"x":67.5,"x2":67.5,"y":-350,"y2":-356.3},{"x":90,"x2":90,"y":-350,"y2":-356.3},{"x":112.5,"x2":112.5,"y":-350,"y2":-356.3},{"x":135,"x2":135,"y":-350,"y2":-356.3},{"x":157.5,"x2":157.5,"y":-350,"y2":-356.3},{"x":180,"x2":180,"y":-350,"y2":-356.3},{"x":202.5,"x2":202.5,"y":-350,"y2":-356.3},{"x":225,"x2":225,"y":-350,"y2":-356.3},{"x":247.5,"x2":247.5,"y":-350,"y2":-356.3},{"x":270,"x2":270,"y":-350,"y2":-356.3},{"x":292.5,"x2":292.5,"y":-350,"y2":-356.3},{"x":315,"x2":315,"y":-350,"y2":-356.3},{"x":337.5,"x2":337.5,"y":-350,"y2":-356.3},{"x":0,"x2":3.5,"y":-550,"y2":-550},{"x":0,"x2":3.5,"y":-500,"y2":-500},{"x":0,"x2":3.5,"y":-450,"y2":-450},{"x":0,"x2":3.5,"y":-400,"y2":-400},{"x":360,"x2":356.5,"y":-550,"y2":-550},{"x":360,"x2":356.5,"y":-500,"y2":-500},{"x":360,"x2":356.5,"y":-450,"y2":-450},{"x":360,"x2":356.5,"y":-400,"y2":-400}]},"mark":{"type":"rule","color":"#000","strokeWidth":1},"encoding":{"x2":{"field":"x2"},"y2":{"field":"y2"}}},
{"data":{"values":[{"x":10.9,"x2":27.3,"y":-377.8,"y2":-377.8}]},"mark":{"type":"rule","color":"#ff00ff","strokeWidth":2.5},"encoding":{"x2":{"field":"x2"},"y2":{"field":"y2"}}},
{"data":{"values":[{"x":10.9,"x2":27.3,"y":-401.3,"y2":-401.3}]},"mark":{"type":"rule","color":"#000","strokeWidth":2.5},"encoding":{"x2":{"field":"x2"},"y2":{"field":"y2"}}},
{"data":{"values":[{"t":"Mae Lao E-W","x":34,"y":-377.8},{"t":"Mae Lao N-S","x":34,"y":-401.3}]},"mark":{"type":"text","align":"left","baseline":"middle","fontSize":13.5},"encoding":{"text":{"field":"t"}}},
{"data":{"values":[{"t":"after earthquake","x":143.7,"y":-382},{"t":"max envelope","x":207.8,"y":-401},{"t":"min envelope","x":219.5,"y":-520}]},"mark":{"type":"text","align":"center","baseline":"middle","fontSize":13.5},"encoding":{"text":{"field":"t"}}},
{"data":{"values":[{"x":132,"x2":110.5,"y":-389.5,"y2":-424},{"x":186,"x2":169,"y":-410.5,"y2":-437.7},{"x":229,"x2":245.5,"y":-505,"y2":-473}]},"mark":{"type":"rule","color":"#000","strokeWidth":0.8},"encoding":{"x2":{"field":"x2"},"y2":{"field":"y2"}}},
{"data":{"values":[{"x":271.2,"x2":328.9,"y":-404,"y2":-404},{"x":301,"x2":301,"y":-350,"y2":-451},{"x":301,"x2":319.8,"y":-404,"y2":-438}]},"mark":{"type":"rule","color":"#000","strokeWidth":1},"encoding":{"x2":{"field":"x2"},"y2":{"field":"y2"}}},
{"data":{"values":[{"x":301,"y":-404}]},"mark":{"type":"point","shape":"circle","size":1886,"filled":false,"stroke":"#000","strokeWidth":1,"opacity":1},"encoding":{}},
{"data":{"values":[{"x":301,"y":-440.5},{"x":306.2,"y":-439.3},{"x":311.1,"y":-435.6},{"x":315.3,"y":-429.9}]},"mark":{"type":"line","color":"#000","strokeWidth":1},"encoding":{}},
{"data":{"values":[{"x":301,"y":-451}]},"mark":{"type":"point","shape":"triangle-down","size":30,"filled":true,"color":"#000","opacity":1},"encoding":{}},
{"data":{"values":[{"x":313.3,"y":-426.2}]},"mark":{"type":"point","shape":"circle","size":14,"filled":true,"color":"#000","opacity":1},"encoding":{}},
{"data":{"values":[{"t":"θ","x":314.5,"y":-445}]},"mark":{"type":"text","font":"Liberation Serif","align":"center","baseline":"middle","fontSize":11},"encoding":{"text":{"field":"t"}}},
{"data":{"values":[{"t":"(d)","x":357,"y":-588}]},"mark":{"type":"text","align":"right","baseline":"middle","fontSize":15},"encoding":{"text":{"field":"t"}}}
]},
{"width":518,"height":165,
"data":{"name":"e"},
"resolve":{"axis":{"x":"independent","y":"independent"}},
"encoding":{"x":{"field":"x","type":"quantitative","scale":{"domain":[0,360],"nice":false},"axis":null},"y":{"field":"y","type":"quantitative","scale":{"domain":[-150,150],"nice":false,"zero":false},"axis":null}},
"layer":[
{"data":{"values":[{"x":0,"x2":360,"y":0,"y2":0}]},"mark":{"type":"rule","color":"#000","strokeWidth":1.2},"encoding":{"x2":{"field":"x2"},"y2":{"field":"y2"}}},
{"transform":[{"filter":"datum.s=='E' && datum.k!='a'"}],"mark":{"type":"line","color":"#ff00ff","strokeWidth":2.5,"strokeDash":[2,2]},"encoding":{"detail":{"field":"k"},"x":{"field":"x","type":"quantitative","scale":{"domain":[0,360],"nice":false},"axis":{"orient":"bottom","values":[0,22.5,45,67.5,90,112.5,135,157.5,180,202.5,225,247.5,270,292.5,315,337.5,360],"labelExpr":"datum.value % 90 == 0 ? '' + datum.value : ''","title":"θ (degrees)"}},"y":{"field":"y","type":"quantitative","scale":{"domain":[-150,150],"nice":false,"zero":false},"axis":{"orient":"left","values":[-150,-100,-50,0,50,100,150],"labelExpr":"datum.value % 100 == 0 ? '' + datum.value : ''","title":"M (kNm/m)"}}}},
{"transform":[{"filter":"datum.s=='N' && datum.k!='a'"}],"mark":{"type":"line","color":"#000","strokeWidth":2.5,"strokeDash":[2,2],"strokeDashOffset":2},"encoding":{"detail":{"field":"k"}}},
{"transform":[{"filter":"datum.s=='E' && datum.k=='a'"}],"mark":{"type":"line","color":"#ff00ff","strokeWidth":2.5},"encoding":{}},
{"transform":[{"filter":"datum.s=='N' && datum.k=='a'"}],"mark":{"type":"line","color":"#000","strokeWidth":2.5},"encoding":{}},
{"mark":{"type":"point","opacity":0},"encoding":{"x":{"field":"x","type":"quantitative","scale":{"domain":[0,360],"nice":false},"axis":{"orient":"top","values":[0,22.5,45,67.5,90,112.5,135,157.5,180,202.5,225,247.5,270,292.5,315,337.5,360],"labels":false,"title":null}},"y":{"field":"y","type":"quantitative","scale":{"domain":[-150,150],"nice":false,"zero":false},"axis":{"orient":"right","values":[-150,-100,-50,0,50,100,150],"labels":false,"title":null}}}},
{"data":{"values":[{"x":22.5,"x2":22.5,"y":-150,"y2":-140.9},{"x":45,"x2":45,"y":-150,"y2":-140.9},{"x":67.5,"x2":67.5,"y":-150,"y2":-140.9},{"x":90,"x2":90,"y":-150,"y2":-140.9},{"x":112.5,"x2":112.5,"y":-150,"y2":-140.9},{"x":135,"x2":135,"y":-150,"y2":-140.9},{"x":157.5,"x2":157.5,"y":-150,"y2":-140.9},{"x":180,"x2":180,"y":-150,"y2":-140.9},{"x":202.5,"x2":202.5,"y":-150,"y2":-140.9},{"x":225,"x2":225,"y":-150,"y2":-140.9},{"x":247.5,"x2":247.5,"y":-150,"y2":-140.9},{"x":270,"x2":270,"y":-150,"y2":-140.9},{"x":292.5,"x2":292.5,"y":-150,"y2":-140.9},{"x":315,"x2":315,"y":-150,"y2":-140.9},{"x":337.5,"x2":337.5,"y":-150,"y2":-140.9},{"x":22.5,"x2":22.5,"y":150,"y2":140.9},{"x":45,"x2":45,"y":150,"y2":140.9},{"x":67.5,"x2":67.5,"y":150,"y2":140.9},{"x":90,"x2":90,"y":150,"y2":140.9},{"x":112.5,"x2":112.5,"y":150,"y2":140.9},{"x":135,"x2":135,"y":150,"y2":140.9},{"x":157.5,"x2":157.5,"y":150,"y2":140.9},{"x":180,"x2":180,"y":150,"y2":140.9},{"x":202.5,"x2":202.5,"y":150,"y2":140.9},{"x":225,"x2":225,"y":150,"y2":140.9},{"x":247.5,"x2":247.5,"y":150,"y2":140.9},{"x":270,"x2":270,"y":150,"y2":140.9},{"x":292.5,"x2":292.5,"y":150,"y2":140.9},{"x":315,"x2":315,"y":150,"y2":140.9},{"x":337.5,"x2":337.5,"y":150,"y2":140.9},{"x":0,"x2":3.5,"y":-100,"y2":-100},{"x":0,"x2":3.5,"y":-50,"y2":-50},{"x":0,"x2":3.5,"y":0,"y2":0},{"x":0,"x2":3.5,"y":50,"y2":50},{"x":0,"x2":3.5,"y":100,"y2":100},{"x":360,"x2":356.5,"y":-100,"y2":-100},{"x":360,"x2":356.5,"y":-50,"y2":-50},{"x":360,"x2":356.5,"y":0,"y2":0},{"x":360,"x2":356.5,"y":50,"y2":50},{"x":360,"x2":356.5,"y":100,"y2":100}]},"mark":{"type":"rule","color":"#000","strokeWidth":1},"encoding":{"x2":{"field":"x2"},"y2":{"field":"y2"}}},
{"data":{"values":[{"t":"(e)","x":357,"y":-130}]},"mark":{"type":"text","align":"right","baseline":"middle","fontSize":15},"encoding":{"text":{"field":"t"}}}
]},
{"width":518,"height":165,"title":{"text":" ","fontSize":6,"offset":0},
"data":{"name":"f"},
"resolve":{"axis":{"x":"independent","y":"independent"}},
"encoding":{"x":{"field":"x","type":"quantitative","scale":{"domain":[0,360],"nice":false},"axis":null},"y":{"field":"y","type":"quantitative","scale":{"domain":[-100,100],"nice":false,"zero":false},"axis":null}},
"layer":[
{"data":{"values":[{"x":0,"x2":360,"y":0,"y2":0}]},"mark":{"type":"rule","color":"#555","strokeWidth":2},"encoding":{"x2":{"field":"x2"},"y2":{"field":"y2"}}},
{"transform":[{"filter":"datum.s=='E' && datum.k!='a'"}],"mark":{"type":"line","color":"#ff00ff","strokeWidth":2.5,"strokeDash":[2,2]},"encoding":{"detail":{"field":"k"},"x":{"field":"x","type":"quantitative","scale":{"domain":[0,360],"nice":false},"axis":{"orient":"bottom","values":[0,22.5,45,67.5,90,112.5,135,157.5,180,202.5,225,247.5,270,292.5,315,337.5,360],"labelExpr":"datum.value % 90 == 0 ? '' + datum.value : ''","title":"θ (degrees)"}},"y":{"field":"y","type":"quantitative","scale":{"domain":[-100,100],"nice":false,"zero":false},"axis":{"orient":"left","values":[-100,-50,0,50,100],"labelExpr":"datum.value % 100 == 0 ? '' + datum.value : ''","title":"V (kN/m)"}}}},
{"transform":[{"filter":"datum.s=='N' && datum.k!='a'"}],"mark":{"type":"line","color":"#000","strokeWidth":2.5,"strokeDash":[2,2],"strokeDashOffset":2},"encoding":{"detail":{"field":"k"}}},
{"transform":[{"filter":"datum.s=='E' && datum.k=='a'"}],"mark":{"type":"line","color":"#ff00ff","strokeWidth":2.5},"encoding":{}},
{"transform":[{"filter":"datum.s=='N' && datum.k=='a'"}],"mark":{"type":"line","color":"#000","strokeWidth":2.5},"encoding":{}},
{"mark":{"type":"point","opacity":0},"encoding":{"x":{"field":"x","type":"quantitative","scale":{"domain":[0,360],"nice":false},"axis":{"orient":"top","values":[0,22.5,45,67.5,90,112.5,135,157.5,180,202.5,225,247.5,270,292.5,315,337.5,360],"labels":false,"title":null}},"y":{"field":"y","type":"quantitative","scale":{"domain":[-100,100],"nice":false,"zero":false},"axis":{"orient":"right","values":[-100,-50,0,50,100],"labels":false,"title":null}}}},
{"data":{"values":[{"x":22.5,"x2":22.5,"y":-100,"y2":-93.9},{"x":45,"x2":45,"y":-100,"y2":-93.9},{"x":67.5,"x2":67.5,"y":-100,"y2":-93.9},{"x":90,"x2":90,"y":-100,"y2":-93.9},{"x":112.5,"x2":112.5,"y":-100,"y2":-93.9},{"x":135,"x2":135,"y":-100,"y2":-93.9},{"x":157.5,"x2":157.5,"y":-100,"y2":-93.9},{"x":180,"x2":180,"y":-100,"y2":-93.9},{"x":202.5,"x2":202.5,"y":-100,"y2":-93.9},{"x":225,"x2":225,"y":-100,"y2":-93.9},{"x":247.5,"x2":247.5,"y":-100,"y2":-93.9},{"x":270,"x2":270,"y":-100,"y2":-93.9},{"x":292.5,"x2":292.5,"y":-100,"y2":-93.9},{"x":315,"x2":315,"y":-100,"y2":-93.9},{"x":337.5,"x2":337.5,"y":-100,"y2":-93.9},{"x":22.5,"x2":22.5,"y":100,"y2":93.9},{"x":45,"x2":45,"y":100,"y2":93.9},{"x":67.5,"x2":67.5,"y":100,"y2":93.9},{"x":90,"x2":90,"y":100,"y2":93.9},{"x":112.5,"x2":112.5,"y":100,"y2":93.9},{"x":135,"x2":135,"y":100,"y2":93.9},{"x":157.5,"x2":157.5,"y":100,"y2":93.9},{"x":180,"x2":180,"y":100,"y2":93.9},{"x":202.5,"x2":202.5,"y":100,"y2":93.9},{"x":225,"x2":225,"y":100,"y2":93.9},{"x":247.5,"x2":247.5,"y":100,"y2":93.9},{"x":270,"x2":270,"y":100,"y2":93.9},{"x":292.5,"x2":292.5,"y":100,"y2":93.9},{"x":315,"x2":315,"y":100,"y2":93.9},{"x":337.5,"x2":337.5,"y":100,"y2":93.9},{"x":0,"x2":3.5,"y":-50,"y2":-50},{"x":0,"x2":3.5,"y":0,"y2":0},{"x":0,"x2":3.5,"y":50,"y2":50},{"x":360,"x2":356.5,"y":-50,"y2":-50},{"x":360,"x2":356.5,"y":0,"y2":0},{"x":360,"x2":356.5,"y":50,"y2":50}]},"mark":{"type":"rule","color":"#000","strokeWidth":1},"encoding":{"x2":{"field":"x2"},"y2":{"field":"y2"}}},
{"data":{"values":[{"t":"(f)","x":357,"y":-87}]},"mark":{"type":"text","align":"right","baseline":"middle","fontSize":15},"encoding":{"text":{"field":"t"}}}
]}
]}
],
"spacing":35
}
